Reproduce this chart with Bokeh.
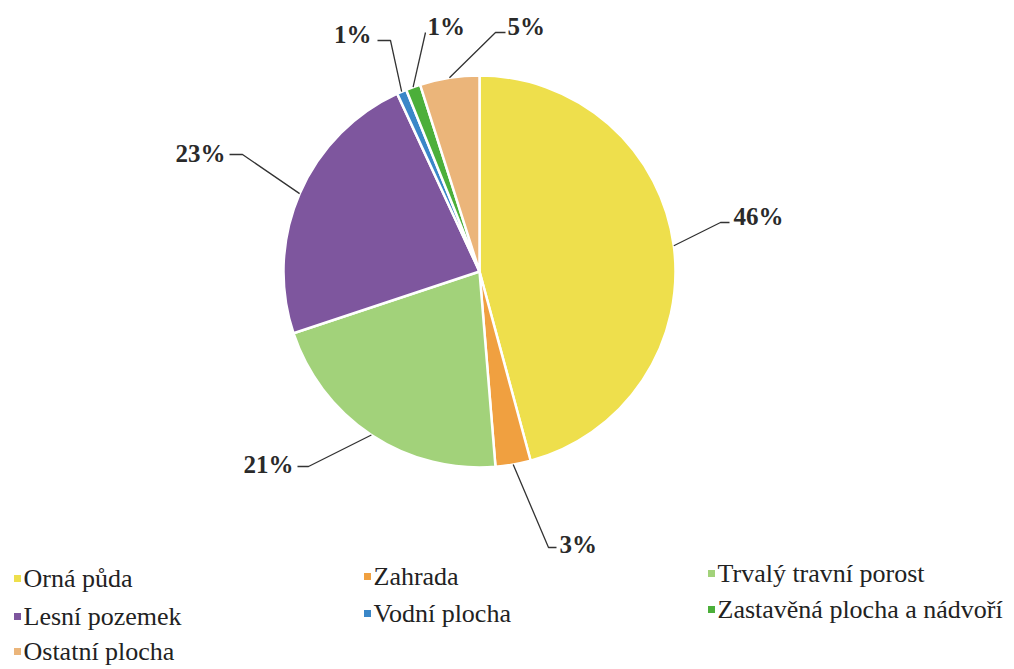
import math
from bokeh.plotting import figure
from bokeh.models import Range1d, ColumnDataSource
from bokeh.core.properties import value
from bokeh.embed import file_html
from bokeh.resources import INLINE

# ---- data ----
categories = ["Orná půda", "Zahrada", "Trvalý travní porost", "Lesní pozemek",
              "Vodní plocha", "Zastavěná plocha a nádvoří", "Ostatní plocha"]
shares = [45.8, 2.9, 21.2, 23.2, 0.8, 1.2, 4.9]
pct_labels = ["46%", "3%", "21%", "23%", "1%", "1%", "5%"]
colors = ["#EEDF4C", "#F0A040", "#A2D27A", "#7E569E", "#3A87C8", "#4CAF3A", "#EBB57A"]

# ---- layout ----
W, H = 1010, 665
def px(X): return X              # page pixel -> data x
def py(Y): return H - Y          # page pixel -> data y

CX, CY, R = px(479), py(271), 196

# label elbow / anchor points (page pixels) and alignment
label_elbows = [[(720, 222), (729, 222)], [(548, 547), (556, 547)], [(308, 466), (297, 466)],
                [(242, 154), (229, 154)], [(390, 40), (377, 40)], [(425, 32)], [(495, 32), (505, 32)]]
label_pos = [(733, 216), (559, 544), (293, 464), (225, 153), (371, 34), (427, 26), (507, 26)]
label_align = ["left", "left", "right", "right", "right", "left", "left"]

legend_pos = [(17, 578), (367, 576), (711, 573), (17, 616), (367, 613), (711, 609), (17, 651)]

FONT = value("Liberation Serif")

p = figure(width=W, height=H, x_range=Range1d(0, W), y_range=Range1d(0, H),
           min_border=0, toolbar_location=None, output_backend="svg",
           x_axis_location=None, y_axis_location=None)
p.grid.visible = False
p.outline_line_color = None
p.background_fill_color = "white"
p.border_fill_color = "white"

total = sum(shares)
starts, ends, mids = [], [], []
cum = 0.0
for s in shares:
    a0 = math.pi / 2 - 2 * math.pi * cum / total
    cum += s
    a1 = math.pi / 2 - 2 * math.pi * cum / total
    starts.append(a0)
    ends.append(a1)
    mids.append((a0 + a1) / 2)

src = ColumnDataSource(dict(start=starts, end=ends, color=colors, cat=categories))
p.wedge(x=CX, y=CY, radius=R, start_angle="start", end_angle="end", direction="clock",
        fill_color="color", line_color="white", line_width=2.5, source=src)

# leader lines
xs, ys = [], []
for m, elbow in zip(mids, label_elbows):
    ex, ey = CX + R * math.cos(m), CY + R * math.sin(m)
    xs.append([ex] + [px(a) for a, b in elbow])
    ys.append([ey] + [py(b) for a, b in elbow])
p.multi_line(xs=xs, ys=ys, line_color="#333333", line_width=1.3)

lsrc = ColumnDataSource(dict(x=[px(a) for a, b in label_pos], y=[py(b) for a, b in label_pos],
                             t=pct_labels, align=label_align))
p.text(x="x", y="y", text="t", text_align="align", text_baseline="middle",
       text_font=FONT, text_font_style="bold",
       text_font_size="25px", text_color="#2a2a2a", source=lsrc)

# legend
gsrc = ColumnDataSource(dict(x=[px(a) for a, b in legend_pos], y=[py(b) for a, b in legend_pos],
                             tx=[px(a) + 6 for a, b in legend_pos], c=colors, t=categories))
p.scatter(x="x", y="y", marker="square", size=7, fill_color="c", line_color=None, source=gsrc)
p.text(x="tx", y="y", text="t", text_align="left", text_baseline="middle",
       text_font=FONT, text_font_size="26px", text_color="#222222",
       source=gsrc)

open("out.html", "w").write(file_html(p, INLINE))
